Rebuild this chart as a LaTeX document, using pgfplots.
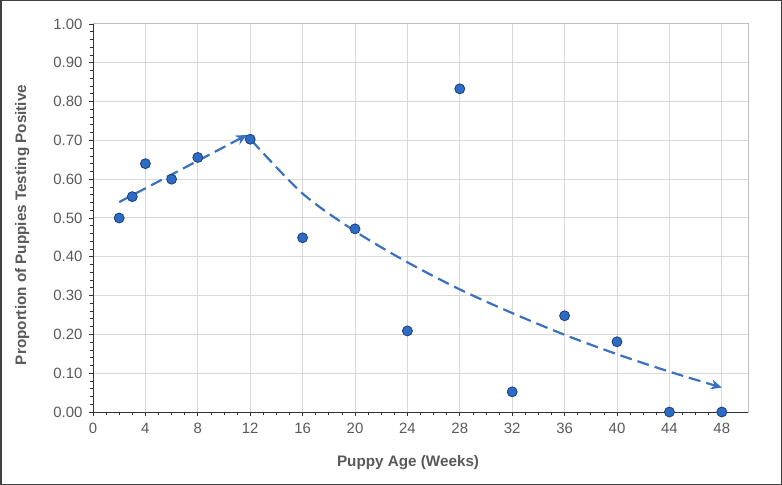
\documentclass[border=0pt]{standalone}
\usepackage{pgfplots}
\pgfplotsset{compat=1.18}
\usepackage{fontspec}
\setmainfont{Liberation Sans}
\usetikzlibrary{arrows.meta}
\definecolor{ptfill}{HTML}{2E6BC4}
\definecolor{ptedge}{HTML}{1B3F7A}
\definecolor{linecol}{HTML}{3A70C0}
\definecolor{txtgray}{HTML}{595959}
\definecolor{gridgray}{HTML}{D9D9D9}
\definecolor{boxgray}{HTML}{BFBFBF}
\definecolor{axdark}{HTML}{333333}
\definecolor{framecol}{HTML}{404040}
\begin{document}
\begin{tikzpicture}
\path[use as bounding box] (0,0) rectangle (782bp,485bp);
\draw[framecol, line width=1.5bp] (0.75bp,0.75bp) rectangle (781.25bp,484.25bp);
\begin{axis}[
  at={(93bp,73bp)}, anchor=south west,
  scale only axis, width=655bp, height=388bp,
  xmin=0, xmax=50, ymin=0, ymax=1,
  xtick={0,4,...,48}, ytick={0,0.1,...,1.0},
  minor x tick num=3, minor y tick num=4,
  tick pos=left, tick align=outside,
  major tick length=4bp, minor tick length=3bp,
  every tick/.style={axdark, line width=0.8bp},
  axis line style={boxgray, line width=1bp},
  grid=major,
  major grid style={gridgray, line width=1bp},
  /pgf/number format/assume math mode=true,
  ticklabel style={font=\fontsize{15}{17}\selectfont, text=txtgray},
  xticklabel style={yshift=-4bp},
  yticklabel style={xshift=-3bp, /pgf/number format/.cd, fixed, fixed zerofill, precision=2},
  xlabel={\textbf{Puppy Age (Weeks)}},
  ylabel={\textbf{Proportion of Puppies Testing Positive}},
  label style={font=\fontsize{15.3}{17}\selectfont, text=txtgray},
  xlabel style={at={(axis description cs:0.481,-0.131)}, anchor=center},
  ylabel style={at={(axis description cs:-0.108,0.482)}, anchor=center},
  clip=false,
]
\addplot[linecol, line width=2.2bp, dash pattern=on 12bp off 6bp, -{Stealth[length=11bp,width=10bp,inset=3.5bp]}]
  coordinates {(2,0.541) (11.75,0.714)};
\addplot[linecol, line width=2.2bp, dash pattern=on 12bp off 6bp, smooth, -{Stealth[length=11bp,width=10bp,inset=3.5bp]}]
  coordinates {(12.1,0.700) (16,0.563) (20,0.466) (24,0.386) (28,0.316) (32,0.255) (36,0.199) (40,0.149) (44,0.104) (48,0.063)};
\addplot[only marks, mark=*, mark size=5bp, mark options={fill=ptfill, draw=ptedge, line width=0.8bp}]
  coordinates {(2,0.500) (3,0.555) (4,0.640) (6,0.600) (8,0.656) (12,0.703) (16,0.449) (20,0.472) (24,0.209) (28,0.833) (32,0.052) (36,0.248) (40,0.181) (44,0.0) (48,0.0)};
\draw[axdark, line width=1bp] (rel axis cs:0,1) -- (rel axis cs:0,0) -- (rel axis cs:1,0);
\end{axis}
\end{tikzpicture}
\end{document}
